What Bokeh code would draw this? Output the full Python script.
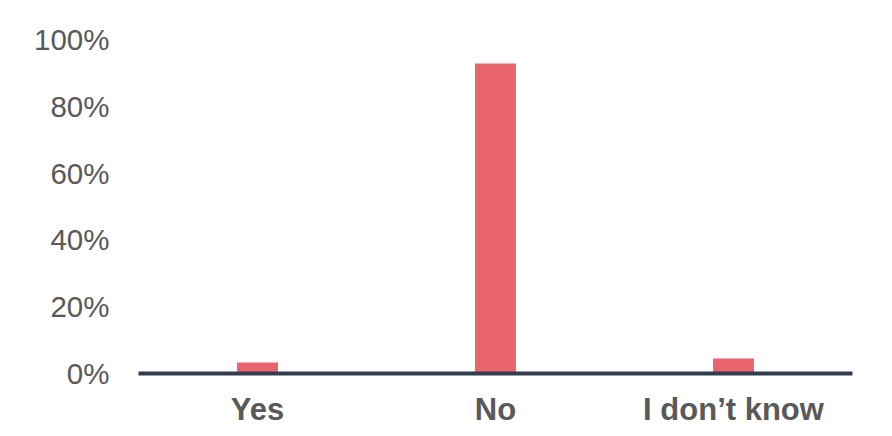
from bokeh.plotting import figure
from bokeh.models import FactorRange, Range1d, FixedTicker, NumeralTickFormatter
from bokeh.embed import file_html
from bokeh.resources import INLINE

# data
answers = ["Yes", "No", "I don\u2019t know"]
shares = [0.033, 0.928, 0.045]
pct_ticks = [0, 0.2, 0.4, 0.6, 0.8, 1.0]

BAR = "#E8656E"
TEXT = "#595959"
AXIS = "#323E4F"
FONT = "Liberation Sans"

p = figure(
    x_range=FactorRange(factors=answers, range_padding=0),
    y_range=Range1d(0, 1),
    width=860, height=429,
    min_border_left=138, min_border_right=8,
    min_border_top=39, min_border_bottom=40,
    output_backend="svg", toolbar_location=None,
)

p.vbar(x=answers, top=shares, bottom=0, width=0.172, color=BAR, line_color=None)

p.outline_line_color = None
p.grid.visible = False
p.background_fill_color = "white"
p.border_fill_color = "white"

# y axis: labels only
p.yaxis.ticker = FixedTicker(ticks=pct_ticks)
p.yaxis.formatter = NumeralTickFormatter(format="0%")
p.yaxis.axis_line_color = None
p.yaxis.major_tick_line_color = None
p.yaxis.minor_tick_line_color = None
p.yaxis.major_tick_out = 0
p.yaxis.major_label_standoff = 29
p.yaxis.major_label_text_font = FONT
p.yaxis.major_label_text_font_size = "29.5px"
p.yaxis.major_label_text_color = TEXT

# x axis: thick baseline and bold category labels
p.xaxis.axis_line_width = 4
p.xaxis.axis_line_color = AXIS
p.xaxis.major_tick_line_color = None
p.xaxis.minor_tick_line_color = None
p.xaxis.major_tick_out = 0
p.xaxis.major_label_standoff = 18
p.xaxis.major_label_text_font = FONT
p.xaxis.major_label_text_font_size = "31px"
p.xaxis.major_label_text_font_style = "bold"
p.xaxis.major_label_text_color = TEXT

open("out.html", "w").write(file_html(p, INLINE))
